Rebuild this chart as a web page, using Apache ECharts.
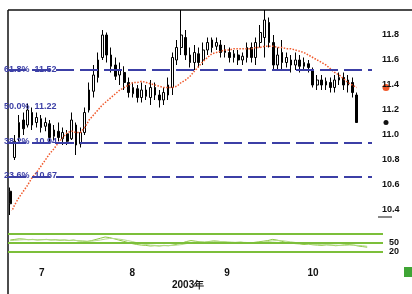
<!DOCTYPE html>
<html>
<head>
<meta charset="utf-8">
<script src="https://cdn.jsdelivr.net/npm/echarts/dist/echarts.min.js"></script>
<style>
  html, body { margin: 0; padding: 0; background: #fff; }
  #main { width: 412px; height: 294px; }
</style>
</head>
<body>
<div id="main"></div>
<script>
// trading days per month (2003)
var junDays = [20, 23, 24, 25, 26, 27, 30];
var julDays = [1, 2, 3, 4, 7, 8, 9, 10, 11, 14, 15, 16, 17, 18, 21, 22, 23, 24, 25, 28];
var augDays = [1, 4, 5, 6, 7, 8, 11, 12, 13, 14, 15, 18, 19, 20, 21, 22, 25, 26, 27, 28, 29];
var sepDays = [1, 2, 3, 4, 5, 8, 9, 10, 11, 12, 15, 16, 17, 18, 19, 22, 23, 24, 25];
var octDays = [8, 9, 10, 13, 14, 15, 16, 17, 20, 21, 22, 23, 24, 27, 28, 29];

// [open, close, low, high]
var kData = [
  [10.55, 10.45, 10.36, 10.58], [10.82, 10.95, 10.80, 11.00], [10.98, 11.10, 10.95, 11.16],
  [11.12, 11.05, 11.00, 11.18], [11.08, 11.20, 11.06, 11.25], [11.18, 11.08, 11.04, 11.22],
  [11.10, 11.14, 11.06, 11.18], [11.13, 11.06, 11.02, 11.16], [11.07, 11.10, 11.03, 11.14],
  [11.09, 10.98, 10.94, 11.12], [10.99, 11.04, 10.96, 11.08], [11.03, 10.98, 10.95, 11.10],
  [10.97, 11.02, 10.92, 11.06], [11.01, 10.95, 10.92, 11.04], [10.97, 11.12, 10.96, 11.18],
  [11.08, 10.92, 10.84, 11.10], [10.93, 11.02, 10.90, 11.06], [11.02, 11.18, 11.00, 11.22],
  [11.20, 11.36, 11.18, 11.42], [11.35, 11.48, 11.30, 11.56], [11.46, 11.60, 11.42, 11.66],
  [11.62, 11.80, 11.60, 11.84], [11.80, 11.64, 11.58, 11.82], [11.64, 11.55, 11.50, 11.70],
  [11.56, 11.47, 11.44, 11.62], [11.48, 11.52, 11.40, 11.58], [11.50, 11.42, 11.36, 11.55],
  [11.42, 11.34, 11.30, 11.46], [11.33, 11.38, 11.30, 11.42], [11.37, 11.30, 11.26, 11.40],
  [11.30, 11.36, 11.26, 11.42], [11.36, 11.31, 11.28, 11.40], [11.30, 11.38, 11.24, 11.44],
  [11.38, 11.32, 11.28, 11.42], [11.32, 11.28, 11.22, 11.36], [11.28, 11.34, 11.24, 11.38],
  [11.32, 11.40, 11.28, 11.46], [11.38, 11.62, 11.32, 11.66], [11.60, 11.70, 11.56, 11.76],
  [11.70, 11.80, 11.64, 12.00], [11.78, 11.64, 11.60, 11.84], [11.64, 11.58, 11.54, 11.70],
  [11.58, 11.66, 11.52, 11.72], [11.65, 11.58, 11.54, 11.70], [11.60, 11.68, 11.56, 11.74],
  [11.68, 11.74, 11.64, 11.78], [11.76, 11.70, 11.66, 11.78], [11.71, 11.74, 11.68, 11.78],
  [11.72, 11.66, 11.62, 11.76], [11.66, 11.68, 11.62, 11.72], [11.66, 11.62, 11.58, 11.70],
  [11.62, 11.65, 11.58, 11.68], [11.64, 11.60, 11.56, 11.68], [11.60, 11.63, 11.56, 11.66],
  [11.62, 11.70, 11.58, 11.74], [11.70, 11.62, 11.58, 11.74], [11.62, 11.74, 11.56, 11.78],
  [11.74, 11.82, 11.70, 11.88], [11.78, 11.92, 11.62, 12.00], [11.90, 11.74, 11.70, 11.94],
  [11.74, 11.56, 11.52, 11.80], [11.56, 11.64, 11.52, 11.70], [11.66, 11.58, 11.52, 11.76],
  [11.58, 11.62, 11.54, 11.66], [11.60, 11.56, 11.50, 11.64], [11.56, 11.60, 11.52, 11.66],
  [11.60, 11.55, 11.50, 11.64], [11.55, 11.58, 11.52, 11.62], [11.57, 11.54, 11.50, 11.60],
  [11.52, 11.40, 11.38, 11.54], [11.40, 11.44, 11.36, 11.48], [11.44, 11.40, 11.36, 11.48],
  [11.40, 11.43, 11.36, 11.46], [11.42, 11.38, 11.34, 11.46], [11.38, 11.44, 11.34, 11.48],
  [11.44, 11.46, 11.40, 11.50], [11.46, 11.40, 11.36, 11.50], [11.40, 11.44, 11.34, 11.48],
  [11.42, 11.34, 11.30, 11.46], [11.32, 11.10, 11.10, 11.34]
];

var maData = [10.36, 10.44, 10.50, 10.55, 10.60, 10.66, 10.70, 10.75, 10.80, 10.85,
  10.89, 10.94, 10.98, 11.02, 11.03, 11.02, 11.02, 11.06, 11.12, 11.16,
  11.20, 11.24, 11.27, 11.30, 11.33, 11.36, 11.38, 11.40, 11.42, 11.42,
  11.43, 11.42, 11.41, 11.40, 11.39, 11.38, 11.38, 11.38, 11.39, 11.42,
  11.44, 11.47, 11.51, 11.55, 11.59, 11.62, 11.65, 11.66, 11.67, 11.68,
  11.68, 11.69, 11.69, 11.69, 11.69, 11.69, 11.70, 11.70, 11.71, 11.71,
  11.71, 11.70, 11.70, 11.69, 11.69, 11.68, 11.67, 11.66, 11.64, 11.62,
  11.60, 11.58, 11.56, 11.53, 11.50, 11.48, 11.45, 11.42, 11.40, 11.38];

// indicator lines (bottom panel)
var kLine = [60, 62, 64, 63, 61, 62, 60, 61, 62, 60, 61, 59, 60, 58, 60, 57, 56, 55, 58, 62,
  66, 70, 68, 64, 60, 56, 52, 48, 45, 43, 42, 40, 41, 40, 42, 41, 43, 46, 50, 55,
  58, 56, 54, 52, 55, 57, 56, 54, 52, 50, 52, 53, 51, 50, 52, 54, 56, 58, 62, 60,
  56, 52, 50, 48, 47, 45, 46, 44, 43, 42, 44, 43, 41, 42, 44, 45, 43, 40, 38, 36];
var dLine = [58, 59, 60, 61, 61, 61, 61, 61, 61, 61, 60, 60, 60, 59, 59, 58, 57, 56, 56, 58,
  60, 63, 65, 65, 63, 61, 58, 55, 51, 48, 45, 43, 42, 41, 41, 41, 42, 43, 45, 48,
  51, 53, 54, 54, 54, 55, 55, 55, 54, 53, 52, 52, 52, 51, 51, 52, 53, 55, 57, 58,
  58, 56, 54, 52, 50, 48, 47, 46, 45, 44, 44, 43, 43, 42, 42, 43, 43, 42, 41, 39];
var indLevels = [80, 50, 20];

// retracement levels
var fibLevels = [11.52, 11.22, 10.94, 10.67];
var fibNames = ['61.8%  11.52', '50.0%  11.22', '38.2%  10.94', '23.6%  10.67'];
var fibShowLine = [true, false, true, true];

var dates = [];
[['06', junDays], ['07', julDays], ['08', augDays], ['09', sepDays], ['10', octDays]].forEach(function (m) {
  m[1].forEach(function (d) { dates.push('2003-' + m[0] + '-' + (d < 10 ? '0' + d : d)); });
});

function isMonthStart(idx) {
  return idx > 0 && dates[idx].slice(5, 7) !== dates[idx - 1].slice(5, 7);
}

var chart = echarts.init(document.getElementById('main'));
var fontFam = 'Liberation Sans, Arial, sans-serif';

var option = {
  animation: false,
  backgroundColor: '#fff',
  grid: [
    { left: 8, right: 40, top: 10, height: 200 },
    { left: 8, right: 29, top: 228, height: 30 }
  ],
  xAxis: [
    { type: 'category', gridIndex: 0, data: dates, boundaryGap: true,
      axisLine: { show: false }, axisTick: { show: false }, axisLabel: { show: false }, splitLine: { show: false } },
    { type: 'category', gridIndex: 1, data: dates, boundaryGap: true,
      axisLine: { show: false }, axisTick: { show: false }, splitLine: { show: false },
      axisLabel: {
        interval: function (idx) { return isMonthStart(idx); },
        formatter: function (v) { return String(parseInt(v.slice(5, 7), 10)); },
        color: '#111', fontSize: 10, fontWeight: 'bold', fontFamily: fontFam, margin: 10
      } }
  ],
  yAxis: [
    { type: 'value', gridIndex: 0, position: 'right', min: 10.4, max: 12.0, interval: 0.2, scale: true,
      axisLine: { show: false }, axisTick: { show: false }, splitLine: { show: false },
      axisLabel: { color: '#111', fontSize: 9, fontWeight: 'bold', fontFamily: fontFam, margin: 10,
        showMaxLabel: false,
        formatter: function (v) { return v.toFixed(1); } } },
    { type: 'value', gridIndex: 1, position: 'right', min: 0, max: 100, interval: 10,
      axisLine: { show: false }, axisTick: { show: false }, splitLine: { show: false },
      axisLabel: { color: '#111', fontSize: 9, fontWeight: 'bold', fontFamily: fontFam, margin: 6,
        formatter: function (v) { return (v === 50 || v === 20) ? String(v) : ''; } } }
  ],
  series: [
    {
      type: 'candlestick', xAxisIndex: 0, yAxisIndex: 0, data: kData, barMaxWidth: 3,
      clip: true,
      itemStyle: { color: '#fff', color0: '#000', borderColor: '#000', borderColor0: '#000', borderWidth: 1 },
      markLine: {
        silent: true, symbol: 'none',
        data: fibLevels.map(function (v, i) {
          return {
            yAxis: v,
            lineStyle: { color: fibShowLine[i] ? '#3c3fa6' : 'rgba(0,0,0,0)', width: 2, type: [18, 6] },
            label: { formatter: fibNames[i] }
          };
        }),
        label: { position: 'insideStartTop', distance: -4, color: '#3c3fa6', fontSize: 9,
          fontWeight: 'bold', fontFamily: fontFam }
      }
    },
    {
      type: 'line', xAxisIndex: 0, yAxisIndex: 0, data: maData, symbol: 'none', smooth: false,
      lineStyle: { color: '#f0582a', width: 1.5, type: 'dotted' }
    },
    {
      type: 'line', xAxisIndex: 1, yAxisIndex: 1, data: kLine, symbol: 'none',
      lineStyle: { color: '#8cc63f', width: 1 },
      markLine: {
        silent: true, symbol: 'none', label: { show: false },
        lineStyle: { color: '#7cbf3a', width: 2, type: 'solid' },
        data: indLevels.map(function (v) { return { yAxis: v }; })
      }
    },
    {
      type: 'line', xAxisIndex: 1, yAxisIndex: 1, data: dLine, symbol: 'none',
      lineStyle: { color: '#b5db8a', width: 1 }
    }
  ]
};
chart.setOption(option);

// markers for last close / last average on the right side
var lastClose = kData[kData.length - 1][1];
var lastMa = maData[maData.length - 1];
var yClose = chart.convertToPixel({ xAxisIndex: 0, yAxisIndex: 0 }, [0, lastClose])[1];
var yMa = chart.convertToPixel({ xAxisIndex: 0, yAxisIndex: 0 }, [0, lastMa])[1];

chart.setOption({
  graphic: [
    { type: 'line', shape: { x1: 8, y1: 10, x2: 412, y2: 10 }, style: { stroke: '#111', lineWidth: 1.5 } },
    { type: 'line', shape: { x1: 8, y1: 10, x2: 8, y2: 294 }, style: { stroke: '#111', lineWidth: 1.5 } },
    { type: 'line', shape: { x1: 378, y1: 217, x2: 392, y2: 217 }, style: { stroke: '#111', lineWidth: 1 } },
    { type: 'circle', shape: { cx: 386, cy: yMa, r: 3.5 }, style: { fill: '#f0582a' } },
    { type: 'circle', shape: { cx: 386, cy: yClose, r: 2.5 }, style: { fill: '#111' } },
    { type: 'rect', shape: { x: 404, y: 267, width: 8, height: 10 }, style: { fill: '#3fa535' } },
    { type: 'text', left: 172, top: 280,
      style: { text: '2003年', fill: '#111', font: 'bold 10px ' + fontFam } }
  ]
});
</script>
</body>
</html>
